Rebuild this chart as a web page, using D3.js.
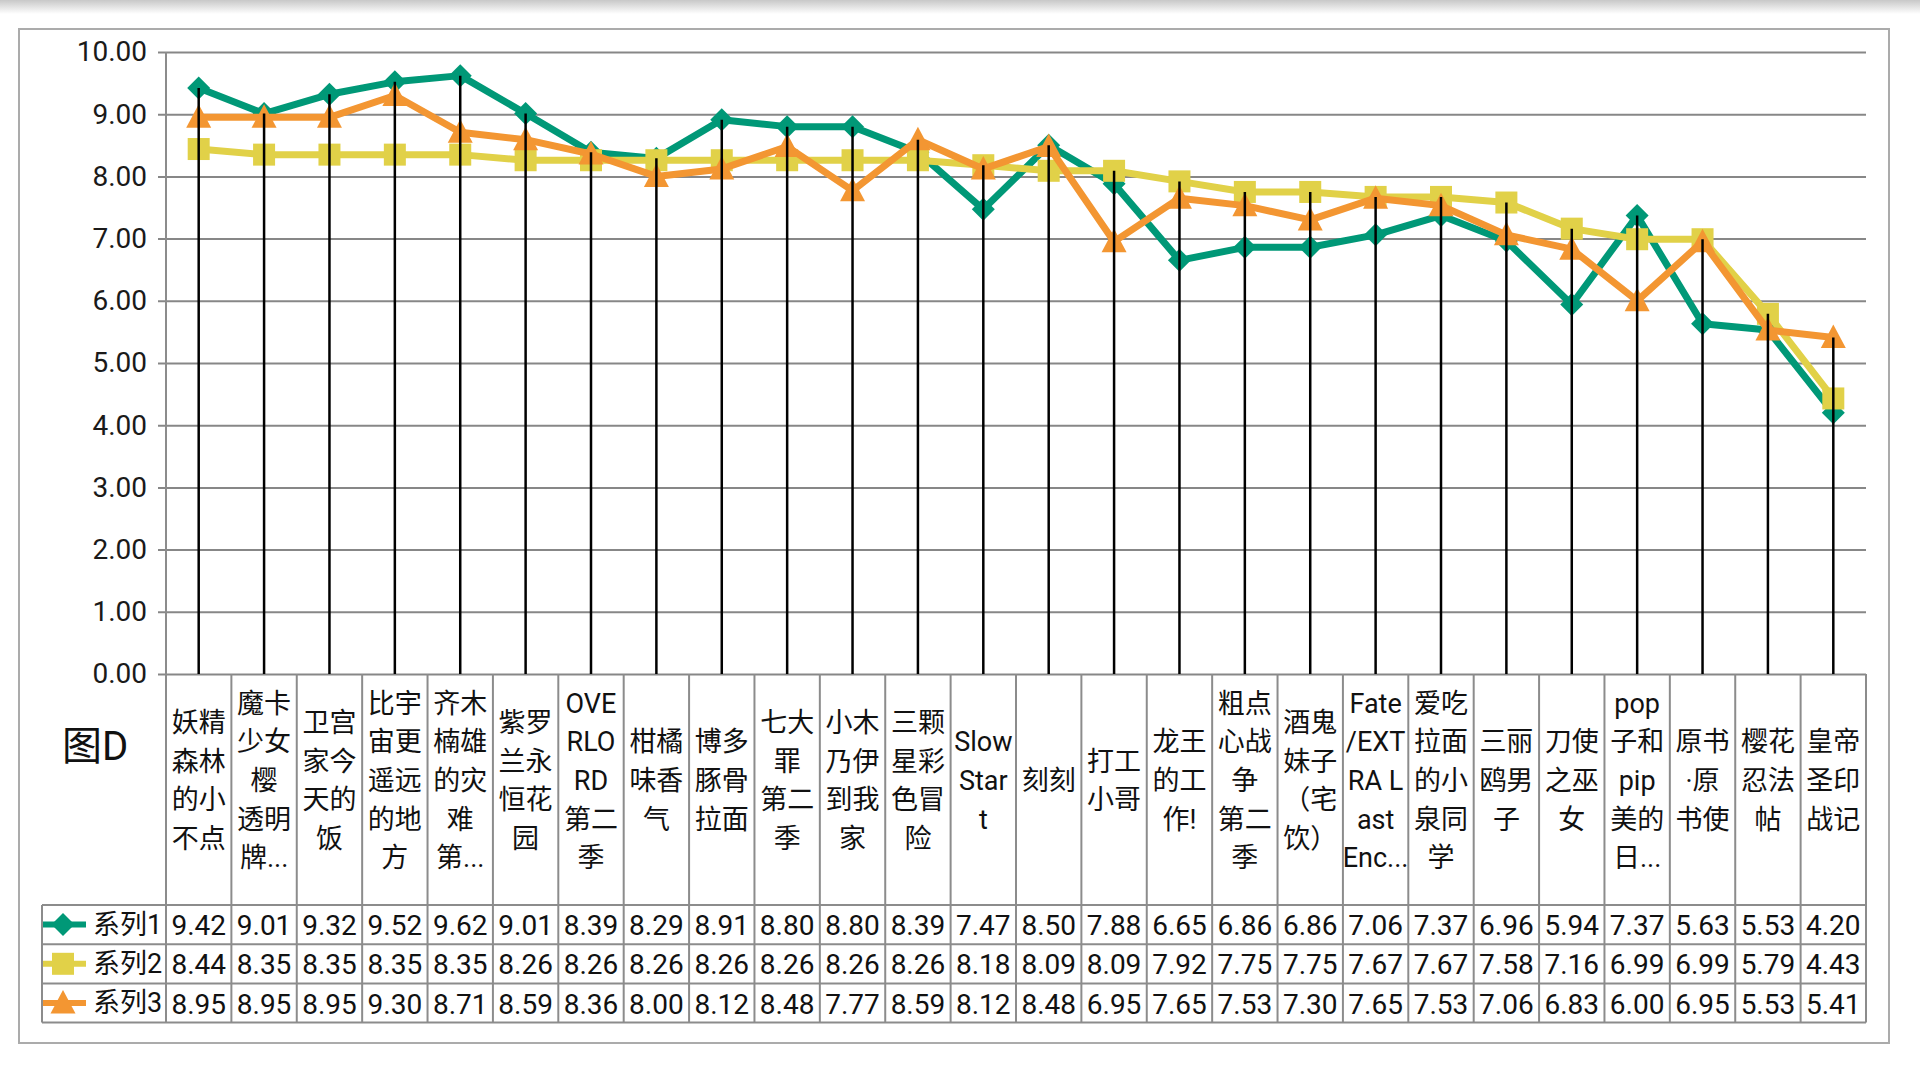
<!DOCTYPE html>
<html>
<head>
<meta charset="utf-8">
<script src="https://d3js.org/d3.v7.min.js"></script>
<style>
	body { margin: 0; background: #ffffff; }
	svg { display: block; }
	text { font-family: Roboto, "Noto Sans CJK SC", sans-serif; }
</style>
</head>
<body>
<svg id="chart" width="1920" height="1080"></svg>
<script>
// category labels, "|" marks where the original wraps the text
var categories = [
	"妖精|森林|的小|不点", "魔卡|少女|樱|透明|牌...", "卫宫|家今|天的|饭", "比宇|宙更|遥远|的地|方",
	"齐木|楠雄|的灾|难|第...", "紫罗|兰永|恒花|园", "OVE|RLO|RD|第二|季", "柑橘|味香|气",
	"博多|豚骨|拉面", "七大|罪|第二|季", "小木|乃伊|到我|家", "三颗|星彩|色冒|险",
	"Slow|Star|t", "刻刻", "打工|小哥", "龙王|的工|作!", "粗点|心战|争|第二|季",
	"酒鬼|妹子|（宅|饮）", "Fate|/EXT|RA L|ast|Enc...", "爱吃|拉面|的小|泉同|学",
	"三丽|鸥男|子", "刀使|之巫|女", "pop|子和|pip|美的|日...", "原书|·原|书使",
	"樱花|忍法|帖", "皇帝|圣印|战记"
]

var series1 = [9.42, 9.01, 9.32, 9.52, 9.62, 9.01, 8.39, 8.29, 8.91, 8.80, 8.80, 8.39, 7.47, 8.50, 7.88, 6.65, 6.86, 6.86, 7.06, 7.37, 6.96, 5.94, 7.37, 5.63, 5.53, 4.20]
var series2 = [8.44, 8.35, 8.35, 8.35, 8.35, 8.26, 8.26, 8.26, 8.26, 8.26, 8.26, 8.26, 8.18, 8.09, 8.09, 7.92, 7.75, 7.75, 7.67, 7.67, 7.58, 7.16, 6.99, 6.99, 5.79, 4.43]
var series3 = [8.95, 8.95, 8.95, 9.30, 8.71, 8.59, 8.36, 8.00, 8.12, 8.48, 7.77, 8.59, 8.12, 8.48, 6.95, 7.65, 7.53, 7.30, 7.65, 7.53, 7.06, 6.83, 6.00, 6.95, 5.53, 5.41]
var seriesNames = ["系列1", "系列2", "系列3"]
var yTicks = [0, 1, 2, 3, 4, 5, 6, 7, 8, 9, 10]
var title = "图D"

var colors = ["#009877", "#e1d148", "#f39632"]
var shapes = ["diamond", "square", "triangle"]

var plotLeft = 166, plotRight = 1866, plotTop = 52, plotBottom = 674
var tableLeft = 42, rowH = 39.2, headBottom = 905

var svg = d3.select("#chart")
var fmt = d3.format(".2f")

var x = d3.scaleBand().domain(categories).range([plotLeft, plotRight])
var y = d3.scaleLinear().domain([0, 10]).range([plotBottom, plotTop])
var cx = c => x(c) + x.bandwidth() / 2

// top shadow + frame
var grad = svg.append("defs").append("linearGradient")
	.attr("id", "shade").attr("x1", 0).attr("y1", 0).attr("x2", 0).attr("y2", 1)
grad.append("stop").attr("offset", 0).attr("stop-color", "#c8c8c8")
grad.append("stop").attr("offset", 1).attr("stop-color", "#ffffff")
svg.append("rect").attr("x", 0).attr("y", 0).attr("width", 1920).attr("height", 14).attr("fill", "url(#shade)")

svg.append("rect")
	.attr("x", 19).attr("y", 29).attr("width", 1870).attr("height", 1014)
	.attr("fill", "none").attr("stroke", "#ababab").attr("stroke-width", 2)

// y axis with gridlines
var yAxis = svg.append("g")
	.attr("transform", "translate(" + plotRight + ",0)")
	.call(d3.axisLeft(y).tickValues(yTicks).tickFormat(fmt).tickSize(plotRight - plotLeft + 8).tickPadding(11))
yAxis.select(".domain").remove()
yAxis.selectAll(".tick line").attr("stroke", "#878787").attr("stroke-width", 2)
yAxis.selectAll(".tick text")
	.attr("font-size", 28).attr("fill", "#1a1a1a")
	.style("font-family", "Roboto, sans-serif")

// table grid
var grid = svg.append("g").attr("stroke", "#8c8c8c").attr("stroke-width", 2)
var tableBottom = headBottom + rowH * 3
grid.append("line").attr("x1", plotLeft).attr("x2", plotLeft).attr("y1", plotTop).attr("y2", tableBottom)
categories.forEach(function(c) {
	var xx = x(c) + x.bandwidth()
	grid.append("line").attr("x1", xx).attr("x2", xx).attr("y1", plotBottom).attr("y2", tableBottom)
})
grid.append("line").attr("x1", tableLeft).attr("x2", tableLeft).attr("y1", headBottom).attr("y2", tableBottom)
for (var r = 0; r <= 3; r++) {
	var yy = headBottom + r * rowH
	grid.append("line").attr("x1", tableLeft).attr("x2", plotRight).attr("y1", yy).attr("y2", yy)
}

// category labels
var lineH = 38.7
svg.append("g").selectAll("text")
	.data(categories)
	.join("text")
	.attr("text-anchor", "middle")
	.attr("font-size", 27)
	.attr("fill", "#111")
	.each(function(c) {
		var lines = c.split("|")
		var y0 = 781 - (lines.length - 1) * lineH / 2
		d3.select(this).selectAll("tspan")
			.data(lines)
			.join("tspan")
			.attr("x", cx(c))
			.attr("y", (d, i) => y0 + i * lineH)
			.attr("dominant-baseline", "central")
			.text(d => d)
	})

svg.append("text")
	.attr("x", 62).attr("y", 746)
	.attr("dominant-baseline", "central")
	.attr("font-size", 40).attr("fill", "#111")
	.text(title)

// series
function marker(g, shape, color) {
	if (shape == "diamond") {
		g.append("path").attr("d", "M0,-11.5L11.5,0L0,11.5L-11.5,0Z").attr("fill", color)
	} else if (shape == "square") {
		g.append("rect").attr("x", -11).attr("y", -11).attr("width", 22).attr("height", 22).attr("fill", color)
	} else {
		g.append("path").attr("d", "M0,-13L12.5,10.5L-12.5,10.5Z").attr("fill", color)
	}
}

var allSeries = [series1, series2, series3]
var line = d3.line()
	.x((d, i) => cx(categories[i]))
	.y(d => y(d))

allSeries.forEach(function(values, s) {
	svg.append("path")
		.datum(values)
		.attr("d", line)
		.attr("fill", "none")
		.attr("stroke", colors[s])
		.attr("stroke-width", 7)
		.attr("stroke-linejoin", "round")

	values.forEach(function(v, i) {
		var g = svg.append("g")
			.attr("transform", "translate(" + cx(categories[i]) + "," + y(v) + ")")
		marker(g, shapes[s], colors[s])
	})
})

// drop lines
svg.append("g").selectAll("line")
	.data(categories)
	.join("line")
	.attr("x1", c => cx(c))
	.attr("x2", c => cx(c))
	.attr("y1", (c, i) => y(Math.max(series1[i], series2[i], series3[i])))
	.attr("y2", y(0))
	.attr("stroke", "#000")
	.attr("stroke-width", 2.5)

// data table rows
allSeries.forEach(function(values, s) {
	var rowMid = headBottom + s * rowH + rowH / 2
	var key = svg.append("g")
	key.append("line")
		.attr("x1", tableLeft + 1).attr("x2", 86).attr("y1", rowMid).attr("y2", rowMid)
		.attr("stroke", colors[s]).attr("stroke-width", 6)
	marker(key.append("g").attr("transform", "translate(63," + rowMid + ")"), shapes[s], colors[s])
	svg.append("text")
		.attr("x", 93).attr("y", rowMid)
		.attr("dominant-baseline", "central")
		.attr("font-size", 27).attr("fill", "#111")
		.text(seriesNames[s])

	svg.append("g").selectAll("text")
		.data(values)
		.join("text")
		.attr("x", (d, i) => cx(categories[i]))
		.attr("y", rowMid + 1)
		.attr("text-anchor", "middle")
		.attr("dominant-baseline", "central")
		.attr("font-size", 28).attr("fill", "#111")
		.style("font-family", "Roboto, sans-serif")
		.text(d => fmt(d))
})
</script>
</body>
</html>
